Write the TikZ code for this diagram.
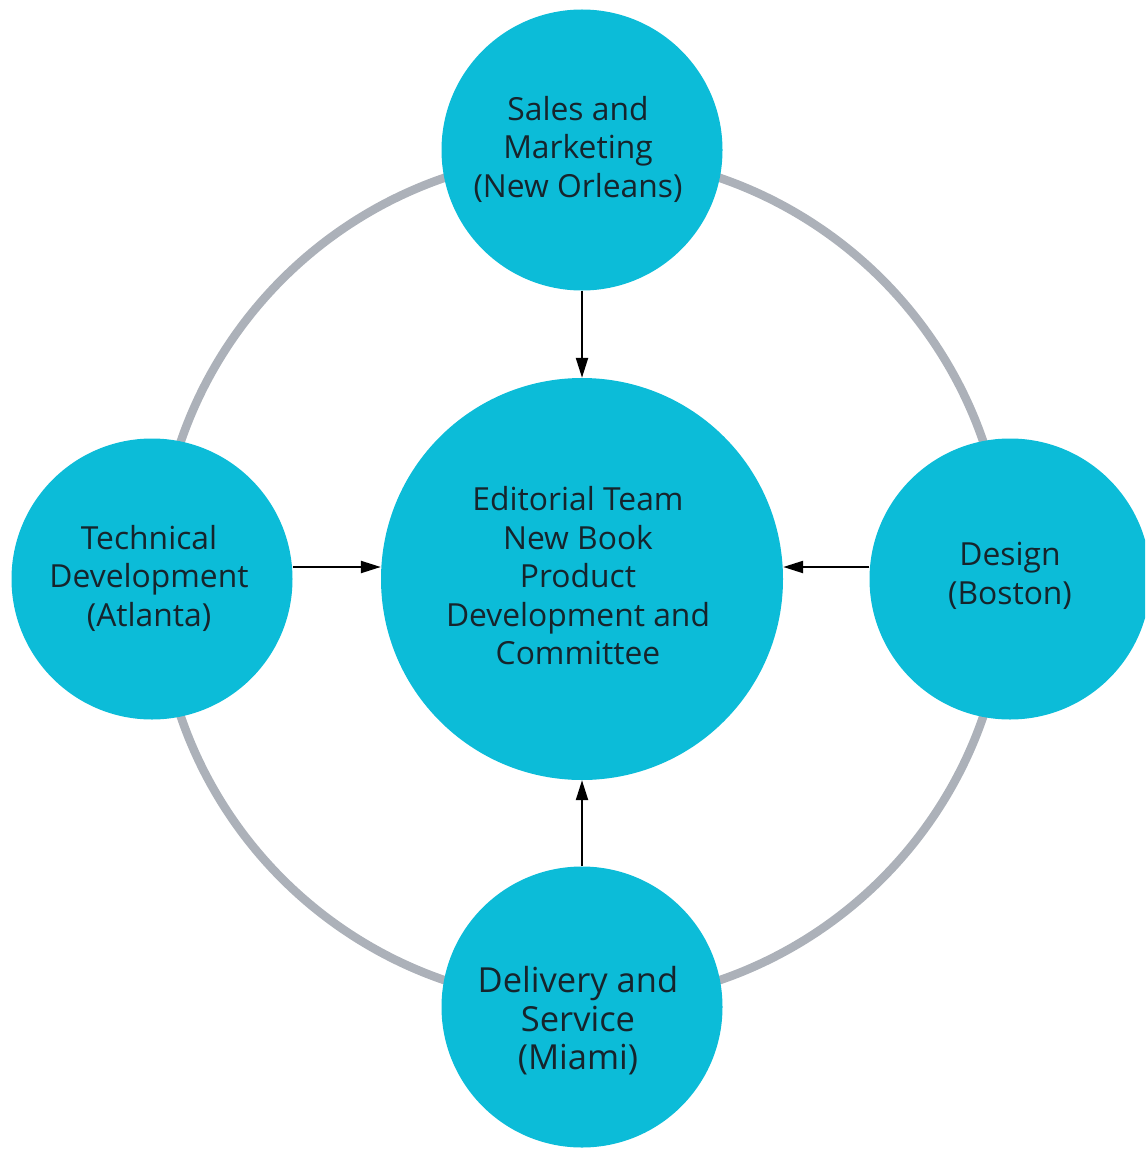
\documentclass[tikz,border=0pt]{standalone}
\usepackage{fontspec}
\setmainfont{Open Sans}
\usetikzlibrary{arrows.meta}
\definecolor{bubble}{RGB}{12,188,216}
\definecolor{ringgray}{RGB}{172,177,185}
\definecolor{txt}{RGB}{22,36,44}
\tikzset{
  unit/.style={circle, fill=bubble, draw=none, inner sep=0pt, minimum size=#1},
  lbl/.style={text=txt, align=center, font=\fontsize{31.8}{38.5}\selectfont, inner sep=0pt},
  flow/.style={draw=black, line width=2.2pt, -{Triangle[length=20pt,width=12pt]}},
  ring/.style={draw=ringgray, line width=8.5pt}
}
\begin{document}
\begin{tikzpicture}[x=1pt,y=-1pt]
\useasboundingbox (0,0) rectangle (1145,1150);
\clip (0,0) rectangle (1145,1150);
\coordinate (hub) at (582,579);
\draw[ring] (hub) circle[radius=424];
\node[unit=402pt] (center) at (hub) {};
\node[unit=281pt] (top) at (582,150) {};
\node[unit=281pt] (left) at (152,579) {};
\node[unit=281pt] (right) at (1010,579) {};
\node[unit=281pt] (bottom) at (582,1007) {};
\node[lbl] (ttop) at (578,149) {Sales and\\Marketing\\(New Orleans)};
\node[lbl] (tcenter) at (578,576) {Editorial Team\\New Book\\Product\\Development and\\Committee};
\node[lbl] (tleft) at (149,578) {Technical\\Development\\(Atlanta)};
\node[lbl] (tright) at (1010,576) {Design\\(Boston)};
\node[lbl, font=\fontsize{34.5}{38.5}\selectfont] (tbottom) at (578,1021) {Delivery and\\Service\\(Miami)};
\draw[flow] (top.south) -- (center.north);
\draw[flow] ([yshift=12pt]left.east) -- ([yshift=12pt]center.west);
\draw[flow] ([yshift=12pt]right.west) -- ([yshift=12pt]center.east);
\draw[flow] (bottom.north) -- (center.south);
\end{tikzpicture}
\end{document}
